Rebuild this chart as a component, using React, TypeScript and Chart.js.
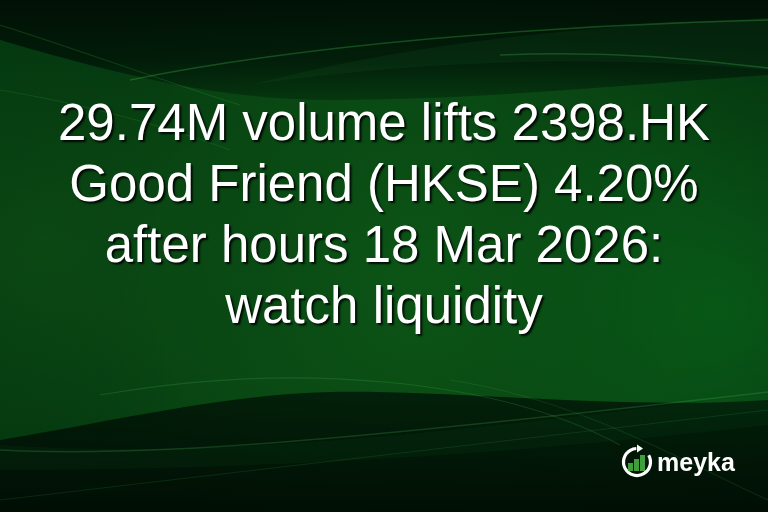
import React, { useEffect, useRef } from "react";
import { Chart, registerables } from "chart.js";

Chart.register(...registerables);

const TITLE_LINES = [
  "29.74M volume lifts 2398.HK",
  "Good Friend (HKSE) 4.20%",
  "after hours 18 Mar 2026:",
  "watch liquidity",
];
const BRAND = "meyka";
const LOGO_BARS = [8, 12, 16];

const W = 768;
const H = 512;

const bannerPlugin = {
  id: "banner",
  beforeDraw(chart: any) {
    const ctx = chart.ctx as CanvasRenderingContext2D;
    ctx.save();
    ctx.fillStyle = "#053a10";
    ctx.fillRect(0, 0, W, H);
    // main glow
    let g = ctx.createRadialGradient(420, 280, 20, 420, 280, 460);
    g.addColorStop(0, "rgba(12,84,22,1)");
    g.addColorStop(0.55, "rgba(10,74,20,0.7)");
    g.addColorStop(1, "rgba(5,50,14,0)");
    ctx.fillStyle = g;
    ctx.fillRect(0, 0, W, H);
    g = ctx.createRadialGradient(720, 310, 10, 720, 310, 240);
    g.addColorStop(0, "rgba(8,92,24,0.8)");
    g.addColorStop(1, "rgba(8,92,24,0)");
    ctx.fillStyle = g;
    ctx.fillRect(0, 0, W, H);
    g = ctx.createRadialGradient(40, 250, 10, 40, 250, 200);
    g.addColorStop(0, "rgba(14,80,22,0.6)");
    g.addColorStop(1, "rgba(14,80,22,0)");
    ctx.fillStyle = g;
    ctx.fillRect(0, 0, W, H);

    // dark region on top
    ctx.beginPath();
    ctx.moveTo(0, 0);
    ctx.lineTo(0, 40);
    ctx.bezierCurveTo(120, 75, 220, 100, 330, 100);
    ctx.bezierCurveTo(480, 100, 620, 85, 768, 75);
    ctx.lineTo(768, 0);
    ctx.closePath();
    g = ctx.createLinearGradient(0, 0, 0, 100);
    g.addColorStop(0, "rgba(0,14,5,0.95)");
    g.addColorStop(0.6, "rgba(0,20,7,0.8)");
    g.addColorStop(1, "rgba(0,28,9,0.4)");
    ctx.fillStyle = g;
    ctx.fill();
    // lighter band in top right
    ctx.beginPath();
    ctx.moveTo(250, 85);
    ctx.bezierCurveTo(420, 40, 600, 25, 768, 18);
    ctx.lineTo(768, 70);
    ctx.bezierCurveTo(600, 55, 420, 60, 250, 85);
    ctx.closePath();
    ctx.fillStyle = "rgba(20,80,30,0.22)";
    ctx.fill();

    // dark region at bottom
    ctx.beginPath();
    ctx.moveTo(0, 512);
    ctx.lineTo(0, 440);
    ctx.bezierCurveTo(120, 420, 220, 395, 330, 392);
    ctx.bezierCurveTo(460, 390, 620, 410, 768, 400);
    ctx.lineTo(768, 512);
    ctx.closePath();
    g = ctx.createLinearGradient(0, 390, 0, 512);
    g.addColorStop(0, "rgba(0,18,6,0.75)");
    g.addColorStop(1, "rgba(0,12,4,0.95)");
    ctx.fillStyle = g;
    ctx.fill();
    // lighter band bottom
    ctx.beginPath();
    ctx.moveTo(0, 445);
    ctx.bezierCurveTo(150, 455, 300, 445, 450, 430);
    ctx.bezierCurveTo(600, 415, 700, 400, 768, 395);
    ctx.lineTo(768, 425);
    ctx.bezierCurveTo(550, 450, 300, 470, 0, 470);
    ctx.closePath();
    ctx.fillStyle = "rgba(20,90,30,0.12)";
    ctx.fill();

    // light swoosh lines
    const stroke = (c: string, w: number, f: (c: CanvasRenderingContext2D) => void) => {
      ctx.beginPath();
      f(ctx);
      ctx.strokeStyle = c;
      ctx.lineWidth = w;
      ctx.stroke();
    };
    stroke("rgba(60,170,70,0.35)", 1.5, (c) => {
      c.moveTo(130, 80);
      c.bezierCurveTo(300, 45, 550, 25, 768, 20);
    });
    stroke("rgba(60,170,70,0.22)", 1.2, (c) => {
      c.moveTo(0, 25);
      c.bezierCurveTo(80, 50, 160, 80, 240, 105);
    });
    stroke("rgba(70,180,80,0.3)", 1.5, (c) => {
      c.moveTo(500, 55);
      c.bezierCurveTo(620, 50, 700, 60, 768, 68);
    });
    stroke("rgba(60,170,70,0.18)", 1.2, (c) => {
      c.moveTo(0, 90);
      c.bezierCurveTo(60, 100, 150, 120, 230, 150);
    });
    stroke("rgba(80,190,90,0.22)", 1.5, (c) => {
      c.moveTo(0, 450);
      c.bezierCurveTo(150, 458, 350, 440, 768, 392);
    });
    stroke("rgba(80,190,90,0.2)", 1.2, (c) => {
      c.moveTo(100, 395);
      c.bezierCurveTo(300, 360, 500, 380, 620, 445);
    });
    stroke("rgba(80,190,90,0.14)", 1.2, (c) => {
      c.moveTo(450, 380);
      c.bezierCurveTo(580, 400, 680, 460, 768, 500);
    });
    stroke("rgba(80,190,90,0.14)", 1.2, (c) => {
      c.moveTo(0, 500);
      c.bezierCurveTo(250, 470, 500, 440, 768, 410);
    });
    ctx.restore();
  },
  afterDraw(chart: any) {
    const ctx = chart.ctx as CanvasRenderingContext2D;
    ctx.save();
    ctx.font = '51px "Liberation Sans", Arial, sans-serif';
    ctx.textAlign = "center";
    ctx.textBaseline = "alphabetic";
    ctx.shadowColor = "rgba(0,0,0,0.85)";
    ctx.shadowOffsetX = 2;
    ctx.shadowOffsetY = 2;
    ctx.shadowBlur = 2;
    ctx.fillStyle = "#ffffff";
    TITLE_LINES.forEach((line, i) => {
      ctx.fillText(line, W / 2, 140 + i * 61);
    });
    ctx.restore();

    // logo
    ctx.save();
    const cx = 637;
    const cy = 462;
    const r = 13.5;
    ctx.beginPath();
    ctx.arc(cx, cy, r, -Math.PI / 6, (3 * Math.PI) / 2 - 0.05, false);
    ctx.strokeStyle = "#ffffff";
    ctx.lineWidth = 3.2;
    ctx.stroke();
    // arrow head
    ctx.beginPath();
    ctx.moveTo(cx, cy - r - 4);
    ctx.lineTo(cx + 6, cy - r);
    ctx.lineTo(cx, cy - r + 4);
    ctx.closePath();
    ctx.fillStyle = "#ffffff";
    ctx.fill();
    // bars
    ctx.fillStyle = "#3f9f3a";
    LOGO_BARS.forEach((h, i) => {
      const x = cx - 9 + i * 6;
      ctx.fillRect(x, cy + 9 - h, 5, h);
    });
    ctx.font = 'bold 25px "Liberation Sans", Arial, sans-serif';
    ctx.fillStyle = "#ffffff";
    ctx.textAlign = "left";
    ctx.fillText(BRAND, 657, 471);
    ctx.restore();
  },
};

export default function App() {
  const ref = useRef<HTMLCanvasElement | null>(null);
  useEffect(() => {
    document.body.style.margin = "0";
    const chart = new Chart(ref.current as HTMLCanvasElement, {
      type: "bar",
      data: { labels: [], datasets: [] },
      options: {
        animation: false,
        responsive: false,
        devicePixelRatio: 1,
        layout: { padding: 0 },
        scales: { x: { display: false }, y: { display: false } },
        plugins: { legend: { display: false }, tooltip: { enabled: false }, title: { display: false } },
      },
      plugins: [bannerPlugin],
    });
    return () => chart.destroy();
  }, []);
  return (
    <div style={{ width: W, height: H }}>
      <canvas ref={ref} width={W} height={H} style={{ width: W, height: H, display: "block" }} />
    </div>
  );
}
